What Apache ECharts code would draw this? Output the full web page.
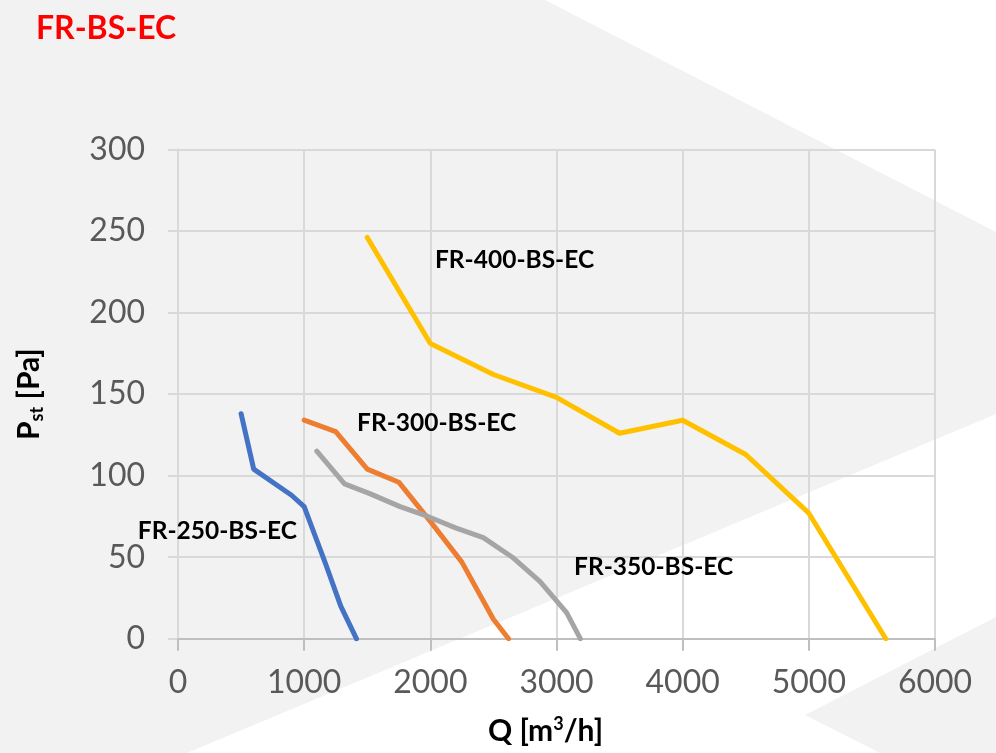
<!DOCTYPE html>
<html>
<head>
<meta charset="utf-8">
<script src="https://cdn.jsdelivr.net/npm/echarts@6/dist/echarts.min.js"></script>
<style>
html,body{margin:0;padding:0;background:#ffffff;}
#chart{width:996px;height:753px;}
</style>
</head>
<body>
<div id="chart"></div>
<script>
// ---- data ----
var titleText = 'FR-BS-EC';
var seriesNames = ['FR-250-BS-EC', 'FR-300-BS-EC', 'FR-350-BS-EC', 'FR-400-BS-EC'];
var fr250 = [[500,138],[600,104],[900,88],[1000,81],[1170,46],[1290,20],[1415,0]];
var fr300 = [[1000,134],[1250,127],[1500,104],[1750,96],[2000,72],[2250,47],[2500,12],[2620,0]];
var fr350 = [[1100,115],[1320,95],[1520,89],[1760,81],[1980,75],[2200,68],[2420,62],[2650,50],[2870,35],[3080,16],[3190,0]];
var fr400 = [[1500,246],[2000,181],[2500,162],[3000,148],[3500,126],[4000,134],[4500,113],[5000,77],[5610,0]];
// label anchor points (data coords) and side
var labelAnchors = [[943,66,'left'],[1419,132,'right'],[3139,44,'right'],[2037,232,'right']];
var xTicks = [0,1000,2000,3000,4000,5000,6000];
var yTicks = [0,50,100,150,200,250,300];

var colors = ['#4472c4','#ed7d31','#a5a5a5','#ffc000'];
var allData = [fr250, fr300, fr350, fr400];

var chart = echarts.init(document.getElementById('chart'), null, {renderer:'canvas'});

var series = allData.map(function(d, i){
  var a = labelAnchors[i];
  return {
    name: seriesNames[i],
    type: 'line',
    data: d,
    showSymbol: false,
    symbol: 'none',
    smooth: false,
    z: 3,
    lineStyle: {color: colors[i], width: 5, cap: 'round', join: 'round'},
    itemStyle: {color: colors[i]},
    markPoint: {
      symbol: 'circle',
      symbolSize: 0,
      silent: true,
      itemStyle: {color: 'rgba(0,0,0,0)'},
      label: {
        show: true,
        position: a[2],
        distance: 0,
        formatter: seriesNames[i],
        fontFamily: 'Lato',
        fontWeight: 'bold',
        fontSize: 24.5,
        color: '#000000'
      },
      data: [{coord: [a[0], a[1]]}]
    }
  };
});

var option = {
  backgroundColor: '#ffffff',
  animation: false,
  title: {
    text: titleText,
    left: 31,
    top: 8,
    textStyle: {fontFamily: 'Lato', fontWeight: 'bold', fontSize: 32, color: '#ff0000'}
  },
  graphic: [
    {type:'polygon', z:-10, silent:true, shape:{points:[[0,0],[545,0],[996,232],[996,414],[187,753],[0,753]]}, style:{fill:'#f2f2f2'}},
    {type:'polygon', z:-10, silent:true, shape:{points:[[996,617],[805,715],[880,753],[996,753]]}, style:{fill:'#f2f2f2'}}
  ],
  grid: {left: 178, right: 61, top: 149.4, bottom: 114.2, containLabel: false},
  xAxis: {
    type: 'value',
    min: xTicks[0],
    max: xTicks[xTicks.length-1],
    interval: 1000,
    name: '{b|Q [m}{sup|3}{b|/h]}',
    nameLocation: 'middle',
    nameGap: 76,
    nameTextStyle: {
      padding: [0, 22, 0, 0],
      rich: {
        b: {fontFamily:'Lato', fontWeight:'bold', fontSize:30, color:'#000', lineHeight:34},
        sup: {fontFamily:'Lato', fontWeight:'bold', fontSize:18, color:'#000', verticalAlign:'top', lineHeight:22}
      }
    },
    axisLine: {show: true, lineStyle: {color:'#bfbfbf', width: 2}},
    axisTick: {show: true, length: 12, lineStyle: {color:'#bfbfbf', width: 2}},
    axisLabel: {fontFamily:'Lato', fontSize: 32, color:'#595959', margin: 28, formatter: function(v){ return String(v); }},
    splitLine: {show: true, lineStyle: {color:'#d9d9d9', width: 2}}
  },
  yAxis: {
    type: 'value',
    min: yTicks[0],
    max: yTicks[yTicks.length-1],
    interval: 50,
    name: '{b|P}{sub|st}{b| [Pa]}',
    nameLocation: 'middle',
    nameRotate: 90,
    nameGap: 132,
    nameTextStyle: {
      rich: {
        b: {fontFamily:'Lato', fontWeight:'bold', fontSize:30, color:'#000', lineHeight:34},
        sub: {fontFamily:'Lato', fontWeight:'bold', fontSize:18, color:'#000', verticalAlign:'bottom', lineHeight:22}
      }
    },
    axisLine: {show: true, lineStyle: {color:'#d9d9d9', width: 2}},
    axisTick: {show: true, length: 10, lineStyle: {color:'#d9d9d9', width: 2}},
    axisLabel: {fontFamily:'Lato', fontSize: 32, color:'#595959', margin: 33, formatter: function(v){ return String(v); }},
    splitLine: {show: true, lineStyle: {color:'#d9d9d9', width: 2}}
  },
  series: series
};
chart.setOption(option);
</script>
</body>
</html>
